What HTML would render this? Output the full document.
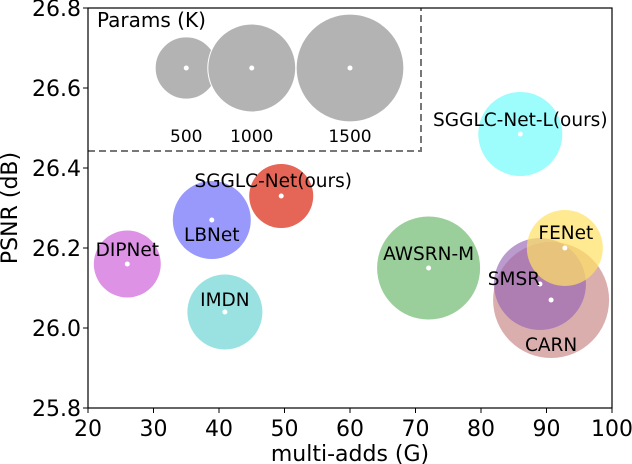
<!DOCTYPE html>
<html><head><meta charset="utf-8"><style>
body{margin:0;background:#fff;}
svg{display:block;font-family:"DejaVu Sans","Liberation Sans",sans-serif;}
</style></head><body>
<svg id="chart" width="632" height="464"></svg>
<script>
const names=["DIPNet","LBNet","IMDN","SGGLC-Net(ours)","AWSRN-M","CARN","SMSR","FENet","SGGLC-Net-L(ours)"];
const madds=[26,38.9,40.9,49.5,72,90.7,89,92.8,86];
const psnr=[26.16,26.27,26.04,26.33,26.15,26.07,26.11,26.20,26.485];
const params=[580,787,728,530,1373,1741,1095,747,913];
const colors=["rgba(210,110,220,0.75)","rgba(110,110,250,0.7)","rgba(100,210,210,0.65)","rgba(220,50,30,0.75)","rgba(100,180,100,0.65)","rgba(200,130,130,0.65)","rgba(150,100,180,0.65)","rgba(255,225,100,0.7)","rgba(60,250,250,0.5)"];
const labelDx=[0,0,0,-8,0,0,-26,1,0];
const labelDy=[-8,21,-6,-9,-8,51,1,-9,-8];
const legParams=[500,1000,1500];
const legX=[35,45,60];
const xTicks=[20,30,40,50,60,70,80,90,100];
const yTicks=[25.8,26.0,26.2,26.4,26.6,26.8];
const L=88,R=612,T=8,B=408;
const xs=v=>L+(v-20)/80*(R-L);
const ys=v=>B-(v-25.8)/1.0*(B-T);
const rs=p=>1.39*Math.sqrt(p);
const svg=document.getElementById('chart');const NS="http://www.w3.org/2000/svg";
function mk(t,a,txt){const e=document.createElementNS(NS,t);for(const k in a)e.setAttribute(k,a[k]);if(txt!==undefined)e.textContent=txt;svg.appendChild(e);return e;}
let e=mk('path',{d:`M${L},151 H421 V${T}`,fill:'none',stroke:'#777','stroke-width':2,'stroke-dasharray':'7,4'});


e=mk('text',{x:97,y:27,'font-size':20,fill:'#000'},'Params (K)');


legParams.forEach((p,i)=>{
 let c=mk('circle',{cx:xs(legX[i]),cy:ys(26.65),r:rs(p),fill:'#b3b3b3',stroke:'#fff','stroke-width':1});
 
 
 c=mk('circle',{cx:xs(legX[i]),cy:ys(26.65),r:2.5,fill:'#fff'});
 
 
 let t=mk('text',{x:xs(legX[i]),y:142,'font-size':17,'text-anchor':'middle'},String(p));
 
 
});
names.forEach((n,i)=>{
 const cx=xs(madds[i]),cy=ys(psnr[i]);
 let c=mk('circle',{cx:cx,cy:cy,r:rs(params[i]),fill:colors[i]});
 
 
});
names.forEach((n,i)=>{
 const cx=xs(madds[i]),cy=ys(psnr[i]);
 let d=mk('circle',{cx:cx,cy:cy,r:2.5,fill:'#fff'});
 
 
 let t=mk('text',{x:cx+labelDx[i],y:cy+labelDy[i],'font-size':18.5,'text-anchor':'middle',fill:'#000'},n);
 
 
});
e=mk('rect',{x:L,y:T,width:R-L,height:B-T,fill:'none',stroke:'#000','stroke-width':1.2});


xTicks.forEach(v=>{
 let l=mk('line',{x1:xs(v),x2:xs(v),y1:B,y2:B+5,stroke:'#000'});
 
 
 let t=mk('text',{x:xs(v),y:B+28,'font-size':22,'text-anchor':'middle'},String(v));
 
 
});
yTicks.forEach(v=>{
 let l=mk('line',{x1:L-5,x2:L,y1:ys(v),y2:ys(v),stroke:'#000'});
 
 
 let t=mk('text',{x:L-7,y:ys(v)+8,'font-size':22,'text-anchor':'end'},v.toFixed(1));
 
 
});
e=mk('text',{x:(L+R)/2,y:461,'font-size':22,'text-anchor':'middle'},'multi-adds (G)');


e=mk('text',{x:17,y:(T+B)/2,'font-size':22,'text-anchor':'middle',transform:`rotate(-90 17 ${(T+B)/2})`},'PSNR (dB)');


</script>
</body></html>
